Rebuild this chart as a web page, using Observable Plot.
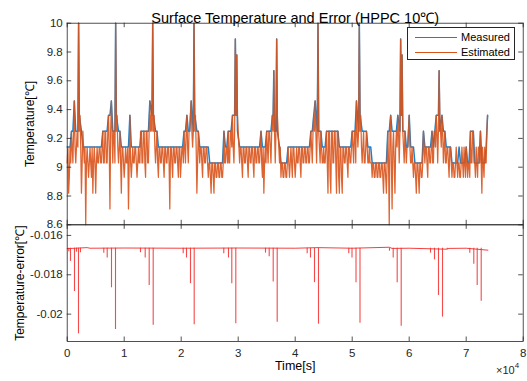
<!DOCTYPE html>
<html>
<head>
<meta charset="utf-8">
<script src="https://cdn.jsdelivr.net/npm/d3@7"></script>
<script src="https://cdn.jsdelivr.net/npm/@observablehq/plot@0.6"></script>
<style>
  body { margin: 0; background: #fff; }
  #wrap { position: relative; width: 527px; height: 381px; font-family: "Liberation Sans", Arial, sans-serif; overflow: hidden; }
  #wrap svg { position: absolute; left: 0; top: 0; }
  .legend { position: absolute; left: 407px; top: 27px; width: 108px; height: 33px; border: 1px solid #262626; background: #fff; box-sizing: border-box; font-size: 11px; color: #000; }
  .legend .sw { position: absolute; left: 7px; width: 42px; height: 0; }
  .legend .lb { position: absolute; left: 53px; line-height: 12px; }
  .exp { position: absolute; left: 496px; top: 362px; font-size: 11px; color: #262626; }
  .exp sup { font-size: 8px; position: relative; top: -1px; }
</style>
</head>
<body>
<div id="wrap"></div>
<script>
// ---------------- data ----------------
const titleText = "Surface Temperature and Error (HPPC 10℃)";
const yLabelTop = "Temperature[℃]";
const yLabelBottom = "Temperature-error[℃]";
const xLabel = "Time[s]";
const seriesNames = ["Measured", "Estimated"];

const xTicks = [0, 10000, 20000, 30000, 40000, 50000, 60000, 70000, 80000];
const tempTicks = [8.6, 8.8, 9, 9.2, 9.4, 9.6, 9.8, 10];
const errTicks = [-0.02, -0.018, -0.016];

// Measured temperature samples (time [s], value [°C])
const measT = [
  0, 500, 750, 1000, 1250, 1500, 1875, 2000, 2125, 2500,
  2750, 6000, 6250, 7000, 7250, 7500, 7750, 8000, 8375, 8500,
  8625, 9000, 9250, 9500, 10750, 11000, 11250, 12750, 13000, 14250,
  14500, 14875, 15000, 15125, 15500, 15750, 16000, 20250, 20500, 20750,
  21000, 21250, 21500, 21750, 22125, 22250, 22375, 22750, 23000, 23250,
  24750, 25000, 27250, 27500, 27750, 28000, 28250, 28750, 29000, 29375,
  29500, 29625, 29750, 29875, 30250, 33750, 34000, 34250, 34750, 35000,
  35750, 36000, 36125, 36250, 36375, 36625, 36750, 36875, 37250, 37500,
  38500, 38750, 42500, 42750, 43000, 43250, 43500, 43875, 44000, 44125,
  44500, 44750, 45250, 45500, 47500, 47750, 49750, 50000, 50500, 50750,
  51125, 51250, 51375, 51750, 52500, 52750, 53250, 53500, 56000, 56250,
  56500, 56750, 57000, 57750, 58000, 58375, 58500, 58625, 58750, 58875,
  59250, 59500, 59750, 60000, 60250, 60750, 61000, 62250, 62500, 62750,
  63750, 64000, 64250, 64500, 64750, 65125, 65250, 65375, 65750, 66000,
  66250, 66500, 67250, 67500, 68500, 68750, 69000, 69750, 70000, 70250,
  70500, 70750, 71000, 71250, 71500, 72250, 72500, 72750, 73250, 73500,
  73750];
const measV = [
  9.14, 9.14, 9.25, 9.25, 9.46, 9.25, 9.25, 10.0, 9.36, 9.25,
  9.14, 9.14, 9.25, 9.25, 9.36, 9.36, 9.46, 9.25, 9.25, 10.0,
  9.36, 9.25, 9.25, 9.14, 9.14, 9.36, 9.14, 9.14, 9.25, 9.25,
  9.46, 9.36, 10.0, 9.36, 9.25, 9.25, 9.14, 9.14, 9.25, 9.25,
  9.36, 9.25, 9.25, 9.46, 9.25, 10.0, 9.36, 9.25, 9.25, 9.14,
  9.14, 9.03, 9.03, 9.25, 9.14, 9.14, 9.25, 9.25, 9.36, 9.36,
  9.89, 9.36, 9.78, 9.25, 9.14, 9.14, 9.25, 9.14, 9.14, 9.25,
  9.25, 9.36, 9.36, 9.67, 9.25, 9.25, 9.89, 9.25, 9.14, 9.03,
  9.03, 9.14, 9.14, 9.25, 9.25, 9.36, 9.46, 9.25, 10.0, 9.25,
  9.25, 9.14, 9.14, 9.25, 9.25, 9.14, 9.14, 9.25, 9.25, 9.46,
  9.25, 10.0, 9.36, 9.25, 9.25, 9.14, 9.14, 9.03, 9.03, 9.25,
  9.25, 9.36, 9.25, 9.25, 9.36, 9.25, 9.89, 9.36, 9.78, 9.25,
  9.25, 9.14, 9.14, 9.36, 9.14, 9.14, 9.03, 9.03, 9.25, 9.14,
  9.14, 9.25, 9.14, 9.25, 9.36, 9.36, 9.67, 9.25, 9.36, 9.25,
  9.25, 9.14, 9.14, 9.03, 9.03, 9.14, 9.03, 9.03, 9.14, 9.03,
  9.03, 9.25, 9.25, 9.25, 9.03, 9.03, 9.25, 9.03, 9.03, 9.14,
  9.36];

// Estimated temperature: samples every estStep seconds (estV at k*estStep,
// estMid at k*estStep + estStep/2)
const estStep = 250;
const estV = [
  9.03, 8.82, 9.14, 9.25, 9.03, 9.46, 9.03, 9.25, 10.0, 9.36,
  8.82, 9.25, 9.03, 8.60, 9.14, 8.93, 9.14, 8.93, 8.82, 9.14,
  8.82, 9.14, 9.03, 9.14, 9.03, 9.25, 9.03, 9.25, 9.03, 9.36,
  8.71, 9.46, 9.03, 9.25, 10.0, 9.36, 9.03, 9.25, 8.82, 9.14,
  8.93, 9.14, 9.03, 8.71, 9.36, 8.93, 9.14, 9.03, 9.14, 8.93,
  9.14, 9.03, 9.25, 9.03, 9.25, 8.93, 9.25, 9.03, 9.46, 9.36,
  10.0, 9.36, 9.03, 9.25, 8.93, 9.14, 9.03, 9.14, 8.93, 9.14,
  9.03, 9.14, 8.71, 9.14, 8.93, 9.14, 9.03, 9.14, 8.93, 9.14,
  9.03, 9.14, 9.25, 9.03, 9.36, 9.03, 9.25, 9.46, 9.14, 10.0,
  9.36, 8.82, 9.25, 9.03, 9.14, 8.93, 9.14, 9.03, 9.14, 8.93,
  9.03, 8.82, 9.03, 8.82, 9.03, 8.93, 9.03, 8.93, 9.03, 8.93,
  9.25, 9.03, 9.14, 9.25, 9.03, 9.25, 9.36, 9.03, 9.89, 9.78,
  9.25, 9.03, 9.14, 8.93, 9.14, 9.03, 9.14, 8.93, 9.14, 9.03,
  9.14, 8.93, 9.14, 9.03, 9.14, 9.03, 9.25, 8.93, 8.82, 9.14,
  9.25, 9.03, 9.25, 9.03, 9.36, 9.67, 9.03, 9.89, 9.25, 9.03,
  8.93, 9.03, 8.93, 9.03, 8.93, 9.14, 8.93, 9.14, 8.93, 9.14,
  8.93, 9.14, 9.03, 9.14, 8.93, 9.14, 9.03, 9.14, 9.03, 9.14,
  9.03, 9.25, 9.03, 9.36, 9.46, 9.03, 10.0, 9.14, 9.25, 9.03,
  9.14, 9.03, 9.25, 8.82, 9.25, 8.82, 9.25, 9.03, 9.25, 8.82,
  9.25, 8.82, 9.14, 8.82, 9.14, 9.03, 9.14, 8.93, 9.14, 9.03,
  9.25, 9.03, 9.25, 9.46, 9.14, 10.0, 9.36, 9.03, 9.25, 9.03,
  9.25, 9.03, 9.14, 9.03, 8.93, 9.03, 8.93, 9.03, 8.93, 9.03,
  8.93, 9.03, 8.82, 9.03, 8.82, 9.25, 8.60, 9.36, 8.71, 9.25,
  8.82, 9.25, 9.36, 9.03, 9.89, 9.78, 9.14, 9.25, 9.03, 9.14,
  9.36, 9.03, 9.14, 8.93, 9.03, 8.82, 9.03, 8.82, 9.03, 8.93,
  9.25, 9.03, 9.14, 8.93, 9.14, 9.03, 9.25, 9.03, 9.25, 9.36,
  9.03, 9.67, 9.25, 9.36, 9.03, 9.25, 9.03, 9.14, 8.93, 9.14,
  8.93, 9.03, 8.93, 9.14, 8.93, 9.03, 8.93, 9.14, 8.93, 9.03,
  9.14, 8.93, 9.03, 9.25, 9.03, 9.25, 9.03, 9.14, 8.93, 9.14,
  9.25, 8.82, 9.03, 9.14, 9.03, 9.36
];
const estMid = [
  9.14, 8.93, 9.03, 9.14, 9.25, 9.14, 9.14, 9.14, 9.25, 9.14,
  9.03, 9.14, 9.14, 9.03, 9.03, 9.03, 9.03, 9.14, 9.03, 9.03,
  9.03, 9.03, 9.14, 9.03, 9.14, 9.03, 9.25, 9.03, 9.25, 9.14,
  9.25, 9.25, 9.25, 9.03, 9.25, 9.14, 9.14, 9.03, 9.14, 9.03,
  9.03, 9.03, 9.14, 9.03, 9.03, 9.03, 9.03, 9.14, 9.03, 9.03,
  9.03, 9.25, 9.03, 9.25, 9.03, 9.25, 9.03, 9.25, 9.25, 9.25,
  9.25, 9.14, 9.14, 9.03, 9.14, 9.03, 9.14, 9.03, 9.14, 9.03,
  9.14, 9.03, 9.14, 9.03, 9.14, 9.03, 9.14, 9.03, 9.14, 8.93,
  9.14, 9.03, 9.14, 9.25, 9.14, 9.25, 9.36, 9.25, 9.25, 9.25,
  9.14, 9.03, 9.14, 9.14, 9.03, 9.14, 9.03, 9.14, 9.03, 9.03,
  8.93, 9.03, 8.93, 9.03, 8.93, 9.03, 8.93, 9.03, 8.93, 9.03,
  9.03, 9.14, 9.03, 9.03, 9.25, 9.14, 9.14, 9.25, 9.36, 9.36,
  9.14, 9.14, 9.03, 9.14, 9.03, 9.14, 9.03, 9.14, 9.03, 9.14,
  9.03, 9.14, 9.03, 9.14, 9.03, 9.14, 9.03, 9.14, 9.03, 9.03,
  9.14, 9.25, 9.14, 9.25, 9.25, 9.25, 9.25, 9.36, 9.14, 9.14,
  9.03, 8.93, 9.03, 8.93, 9.03, 9.03, 9.03, 9.03, 9.14, 9.03,
  9.03, 9.03, 9.14, 9.03, 9.14, 9.03, 9.14, 9.03, 9.14, 9.03,
  9.14, 9.14, 9.25, 9.25, 9.25, 9.25, 9.25, 9.03, 9.14, 9.03,
  9.03, 9.14, 9.03, 9.25, 8.93, 9.25, 9.03, 9.25, 9.03, 9.25,
  8.93, 9.14, 8.93, 9.14, 9.03, 9.14, 9.03, 9.14, 9.03, 9.14,
  9.14, 9.25, 9.03, 9.25, 9.25, 9.25, 9.14, 9.14, 9.03, 9.14,
  9.14, 9.03, 9.03, 9.03, 9.03, 8.93, 9.03, 8.93, 9.03, 8.93,
  9.03, 8.93, 9.03, 8.93, 9.03, 9.03, 9.25, 9.03, 9.14, 9.03,
  9.14, 9.14, 9.25, 9.25, 9.36, 9.25, 9.03, 9.14, 9.14, 9.25,
  9.14, 9.03, 9.03, 9.03, 8.93, 9.03, 8.93, 9.03, 8.93, 9.03,
  9.14, 9.14, 9.03, 9.14, 9.03, 9.14, 9.03, 9.25, 9.14, 9.25,
  9.25, 9.36, 9.14, 9.25, 9.14, 9.03, 9.14, 9.03, 9.14, 9.03,
  9.03, 8.93, 9.03, 9.03, 9.03, 8.93, 9.03, 9.03, 9.14, 8.93,
  9.03, 9.03, 8.93, 9.03, 9.25, 9.03, 8.93, 9.03, 9.14, 9.03,
  9.03, 9.14, 8.93, 9.03, 9.25
];

// Temperature error: slowly varying baseline + narrow dips
const errBaseT = [0, 3500, 4000, 10000, 20000, 30000, 40000, 44000, 50000, 56500, 57000, 60000, 66500, 67000, 70000, 73800];
const errBaseV = [-0.01667, -0.01662, -0.01665, -0.01664, -0.01665, -0.01664, -0.01665, -0.01662, -0.01665, -0.01660, -0.01666, -0.01665, -0.01670, -0.01666, -0.01665, -0.01675];
const errBaseLevel = -0.01665;
const errDipT = [579, 1281, 1982, 7018, 7772, 8474, 13684, 14386, 15088, 20930, 21632, 22281,
  28298, 28877, 29579, 35439, 36140, 36842, 42684, 43386, 44088, 49965, 50667, 51368,
  57193, 57895, 58596, 64439, 65140, 65842, 71333, 71930, 72632,
  280, 1630, 2330, 6420, 12860, 20350, 27470, 34790, 42100, 49400, 56540, 63740, 66670, 70630];
const errDipV = [-0.01732, -0.01885, -0.02100, -0.01715, -0.01866, -0.02078, -0.01715, -0.01854, -0.02057, -0.01715, -0.01845, -0.02054,
  -0.01715, -0.01845, -0.02049, -0.01708, -0.01837, -0.02041, -0.01715, -0.01840, -0.02051, -0.01715, -0.01840, -0.02046,
  -0.01715, -0.01840, -0.02061, -0.01724, -0.01905, -0.02015, -0.01747, -0.01854, -0.01935,
  -0.01683, -0.01685, -0.01688, -0.01690, -0.01688, -0.01693, -0.01693, -0.01690, -0.01693, -0.01693, -0.01680, -0.01690, -0.01673, -0.01690];

// ---------------- build ----------------
const meas = measT.map((t, i) => ({t, v: measV[i]}));
const est = [];
estV.forEach((v, i) => {
  est.push({t: i * estStep, v});
  if (i < estMid.length) est.push({t: i * estStep + estStep / 2, v: estMid[i]});
});
const errBase = errBaseT.map((t, i) => ({t, v: errBaseV[i]}));
const errDips = errDipT.map((t, i) => ({t, v: errDipV[i]}));

const W = 527, H = 381, ML = 66.7, MR = 4.3;
const topTop = 22.7, split = 224.3, botBottom = 341;
const tick = 4.5;
const frameW = W - ML - MR;
const axisColor = "#262626";
const font = "Liberation Sans, Arial, sans-serif";
const blue = "#1f80c8", orange = "#D95319", red = "#f22a2a";

function boxTicks(yTicks, frameH) {
  return [
    Plot.tickX(xTicks, {x: d => d, insetTop: frameH - tick, stroke: axisColor, strokeWidth: 0.8}),
    Plot.tickX(xTicks, {x: d => d, insetBottom: frameH - tick, stroke: axisColor, strokeWidth: 0.8}),
    Plot.tickY(yTicks, {y: d => d, insetRight: frameW - tick, stroke: axisColor, strokeWidth: 0.8}),
    Plot.tickY(yTicks, {y: d => d, insetLeft: frameW - tick, stroke: axisColor, strokeWidth: 0.8})
  ];
}

const topPlot = Plot.plot({
  width: W, height: H,
  marginLeft: ML, marginRight: MR, marginTop: topTop, marginBottom: H - split,
  style: {background: "transparent", fontFamily: font, color: axisColor, overflow: "visible"},
  x: {domain: [0, 80000], axis: null},
  y: {domain: [8.6, 10]},
  marks: [
    Plot.line(meas, {x: "t", y: "v", stroke: blue, strokeWidth: 1.5}),
    Plot.line(est, {x: "t", y: "v", stroke: orange, strokeWidth: 1.25, strokeOpacity: 0.9}),
    Plot.frame({stroke: axisColor, strokeWidth: 0.8}),
    ...boxTicks(tempTicks, split - topTop),
    Plot.axisY(tempTicks, {anchor: "left", tickSize: 0, tickPadding: 4.5, tickFormat: d => String(d), fontSize: 11.5, fill: axisColor, label: null}),
    Plot.text([titleText], {text: d => d, frameAnchor: "top", textAnchor: "middle", dy: -10.5, fontSize: 14.5, fill: "#000"}),
    Plot.text([yLabelTop], {text: d => d, frameAnchor: "left", textAnchor: "middle", rotate: -90, dx: -36.7, fontSize: 12, fill: "#000"})
  ]
});

const botPlot = Plot.plot({
  width: W, height: H,
  marginLeft: ML, marginRight: MR, marginTop: split, marginBottom: H - botBottom,
  style: {background: "transparent", fontFamily: font, color: axisColor, overflow: "visible"},
  x: {domain: [0, 80000]},
  y: {domain: [-0.02139, -0.01546]},
  marks: [
    Plot.line(errBase, {x: "t", y: "v", stroke: red, strokeWidth: 1, strokeOpacity: 0.9}),
    Plot.ruleX(errDips, {x: "t", y1: () => errBaseLevel, y2: "v", stroke: red, strokeWidth: 1.1, strokeOpacity: 0.85}),
    Plot.frame({stroke: axisColor, strokeWidth: 0.8}),
    ...boxTicks(errTicks, botBottom - split),
    Plot.axisX(xTicks, {anchor: "bottom", tickSize: 0, tickPadding: 7, tickFormat: d => String(d / 10000), fontSize: 11.5, fill: axisColor, label: null}),
    Plot.axisY(errTicks, {anchor: "left", tickSize: 0, tickPadding: 4.5, tickFormat: d => String(d), fontSize: 11.5, fill: axisColor, label: null}),
    Plot.text([xLabel], {text: d => d, frameAnchor: "bottom", textAnchor: "middle", dy: 28, fontSize: 12.5, fill: "#000"}),
    Plot.text([yLabelBottom], {text: d => d, frameAnchor: "left", textAnchor: "middle", rotate: -90, dx: -46.7, fontSize: 12, fill: "#000"})
  ]
});

const wrap = document.getElementById("wrap");
wrap.appendChild(topPlot);
wrap.appendChild(botPlot);

// legend
const legend = document.createElement("div");
legend.className = "legend";
[[seriesNames[0], blue, 10.3], [seriesNames[1], orange, 24.7]].forEach(([name, color, y]) => {
  const sw = document.createElement("div");
  sw.className = "sw";
  sw.style.top = (y - 1) + "px";
  sw.style.borderTop = "1px solid " + color;
  legend.appendChild(sw);
  const lb = document.createElement("div");
  lb.className = "lb";
  lb.style.top = (y - 7) + "px";
  lb.textContent = name;
  legend.appendChild(lb);
});
wrap.appendChild(legend);

// x-axis exponent
const exp = document.createElement("div");
exp.className = "exp";
exp.innerHTML = "×10<sup>4</sup>";
wrap.appendChild(exp);
</script>
</body>
</html>
